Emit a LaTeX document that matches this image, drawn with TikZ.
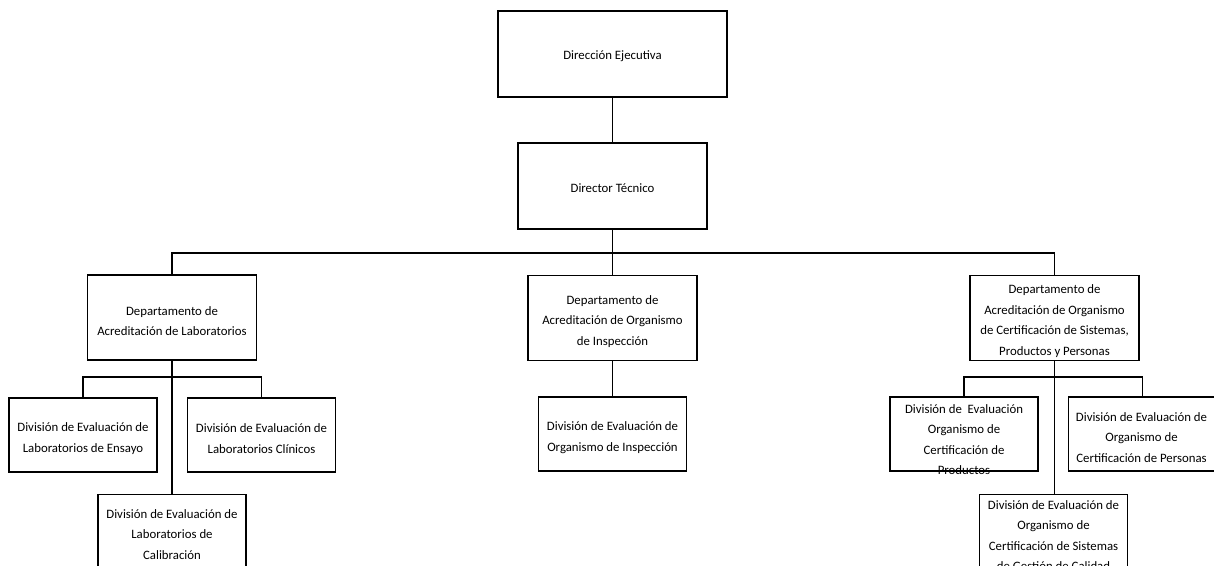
\documentclass[tikz,border=0pt]{standalone}
\usepackage{fontspec}
\setmainfont{Carlito}
\begin{document}
\begin{tikzpicture}[x=1pt,y=-1pt,
  boxbig/.style={draw, line width=1.3pt, minimum width=229pt, minimum height=86pt, inner sep=0pt},
  boxdt/.style={draw, line width=1.3pt, minimum width=189pt, minimum height=86pt, inner sep=0pt},
  boxdept/.style={draw, line width=1.3pt, minimum width=169pt, minimum height=85pt, inner sep=0pt},
  boxdiv/.style={draw, line width=1.3pt, minimum width=148pt, minimum height=74pt, inner sep=0pt},
  lbl/.style={align=center, inner sep=0pt, font=\fontsize{12.8}{20.6}\selectfont},
  conn/.style={draw, line width=1.3pt}]
\useasboundingbox (0,0) rectangle (1214,565);
\fill[white] (0,0) rectangle (1214,565);

% boxes
\node[boxbig] (de) at (612.5,54) {};
\node[boxdt] (dt) at (612.5,186) {};
\node[boxdept] (dlab) at (172,317.5) {};
\node[boxdept] (dins) at (612.5,318) {};
\node[boxdept] (dcsp) at (1054.5,318) {};
\node[boxdiv] (ens) at (83,435) {};
\node[boxdiv] (cli) at (261.5,435) {};
\node[boxdiv] (cal) at (172,531.5) {};
\node[boxdiv] (vins) at (612.5,434) {};
\node[boxdiv] (pro) at (964,434) {};
\node[boxdiv] (per) at (1142.5,434) {};
\node[boxdiv] (sis) at (1053.5,531.5) {};

% labels
\node[lbl] (tde) at ([yshift=-2pt]de.center) {Dirección Ejecutiva};
\node[lbl] (tdt) at ([yshift=-2pt]dt.center) {Director Técnico};
\node[lbl] (tdlab) at ([yshift=-3.5pt]dlab.center) {Departamento de\\Acreditación de Laboratorios};
\node[lbl] (tdins) at ([yshift=-3.5pt]dins.center) {Departamento de\\Acreditación de Organismo\\de Inspección};
\node[lbl] (tdcsp) at ([yshift=-3pt]dcsp.center) {Departamento de\\Acreditación de Organismo\\de Certificación de Sistemas,\\Productos y Personas};
\node[lbl] (tens) at ([yshift=-3.5pt]ens.center) {División de Evaluación de\\Laboratorios de Ensayo};
\node[lbl] (tcli) at ([yshift=-3.5pt]cli.center) {División de Evaluación de\\Laboratorios Clínicos};
\node[lbl] (tcal) at ([yshift=-3pt]cal.center) {División de Evaluación de\\Laboratorios de\\Calibración};
\node[lbl] (tvins) at ([yshift=-3.5pt]vins.center) {División de Evaluación de\\Organismo de Inspección};
\node[lbl] (tpro) at ([yshift=-5.5pt]pro.center) {División de\ \ Evaluación\\Organismo de\\Certificación de\\Productos};
\node[lbl] (tper) at ([xshift=-1pt,yshift=-3.5pt]per.center) {División de Evaluación de\\Organismo de\\Certificación de Personas};
\node[lbl] (tsis) at ([yshift=-4pt]sis.center) {División de Evaluación de\\Organismo de\\Certificación de Sistemas\\de Gestión de Calidad};

% connectors
\coordinate (bus) at (612.5,253);
\coordinate (labbus) at (172,377);
\coordinate (cspbus) at (1054.5,377);
\draw[conn] (de.south) -- (dt.north);
\draw[conn] (dt.south) -- (bus);
\draw[conn] (dlab.north) |- (bus) -| (dcsp.north);
\draw[conn] (bus) -- (dins.north);
\draw[conn] (dins.south) -- (vins.north);
\draw[conn] (dlab.south) -- (cal.north);
\draw[conn] (ens.north) |- (labbus) -| (cli.north);
\draw[conn] (dcsp.south) -- (dcsp.south |- sis.north);
\draw[conn] (pro.north) |- (cspbus) -| (per.north);
\end{tikzpicture}
\end{document}
